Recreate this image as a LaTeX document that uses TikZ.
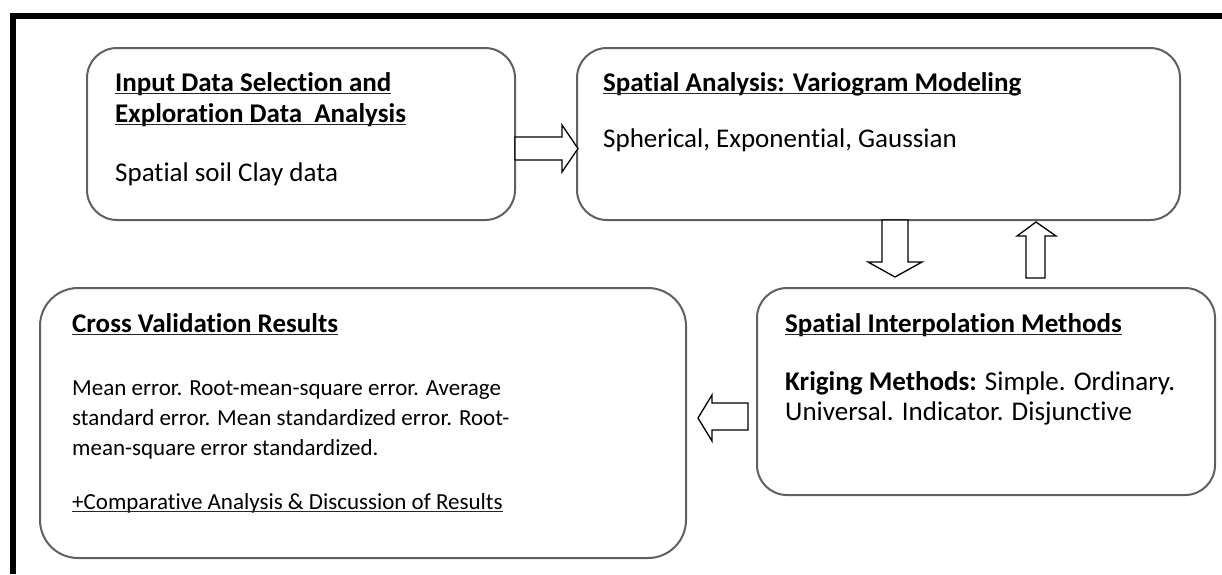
\documentclass[tikz,border=0pt]{standalone}
\usepackage{fontspec}
\setmainfont{Carlito}[Ligatures=NoCommon]
\begin{document}
\begin{tikzpicture}[x=1pt,y=-1pt,
  box/.style={draw=gray!75!black,line width=2pt},
  blockarrow/.style={draw=black,line width=1.3pt,fill=white,line join=miter},
  txt/.style={anchor=base west,inner sep=0pt,font=\fontsize{27}{30}\selectfont,text=black},
  small/.style={anchor=base west,inner sep=0pt,font=\fontsize{23}{26}\selectfont,text=black},
  ttl/.style={txt,font=\fontsize{27}{30}\selectfont\bfseries},
  ulline/.style={line width=1.6pt,black!85}]
\useasboundingbox (0,0) rectangle (1222,574);
% frame
\draw[line width=6pt] (12.5,574) -- (12.5,16) -- (1222,16);
% boxes
\draw[box,rounded corners=30pt] (87,48) rectangle (515,220);
\draw[box,rounded corners=30pt] (577,48) rectangle (1180,220);
\draw[box,rounded corners=30pt] (757,288) rectangle (1215,495);
\draw[box,rounded corners=38pt] (40,288) rectangle (686,558);
% block arrows
\draw[blockarrow] (515,137) -- (562,137) -- (562,125) -- (578,148.5) -- (562,172) -- (562,160) -- (515,160) -- cycle;
\draw[blockarrow] (882,220) -- (882,262) -- (868,262) -- (895,277) -- (922,262) -- (908,262) -- (908,220) -- cycle;
\draw[blockarrow] (1026,278) -- (1026,236) -- (1017,236) -- (1036,222) -- (1056,236) -- (1045,236) -- (1045,278) -- cycle;
\draw[blockarrow] (748,403) -- (712,403) -- (712,395) -- (698,418) -- (712,441) -- (712,430) -- (748,430) -- cycle;
% texts box 1
\node[ttl] (t1a) at (115,91) {Input Data Selection and};
\node[ttl] (t1b) at (115,122) {Exploration Data\ \ Analysis};
\node[txt] (b1) at (115,181) {Spatial soil Clay data};
% box 2
\node[ttl] (t2) at (603,91) {Spatial Analysis: Variogram Modeling};
\node[txt] (b2) at (603,147) {Spherical, Exponential, Gaussian};
% box 3
\node[ttl] (t3) at (785,332) {Spatial Interpolation Methods};
\node[txt] (b3a) at (785,390) {\textbf{Kriging Methods:} Simple. Ordinary.};
\node[txt] (b3b) at (785,420) {Universal. Indicator. Disjunctive};
% box 4
\node[ttl] (t4) at (72,332) {Cross Validation Results};
\node[small] (b4a) at (72,395) {Mean error. Root-mean-square error. Average};
\node[small] (b4b) at (72,425) {standard error. Mean standardized error. Root-};
\node[small] (b4c) at (72,455) {mean-square error standardized.};
\node[small] (b4d) at (72,509) {+Comparative Analysis \& Discussion of Results};
% underlines
\foreach \n in {t1a,t1b,t2,t3,t4,b4d}
  \draw[ulline] ([yshift=-2.5pt]\n.base west) -- ([yshift=-2.5pt]\n.base east);
\end{tikzpicture}
\end{document}
